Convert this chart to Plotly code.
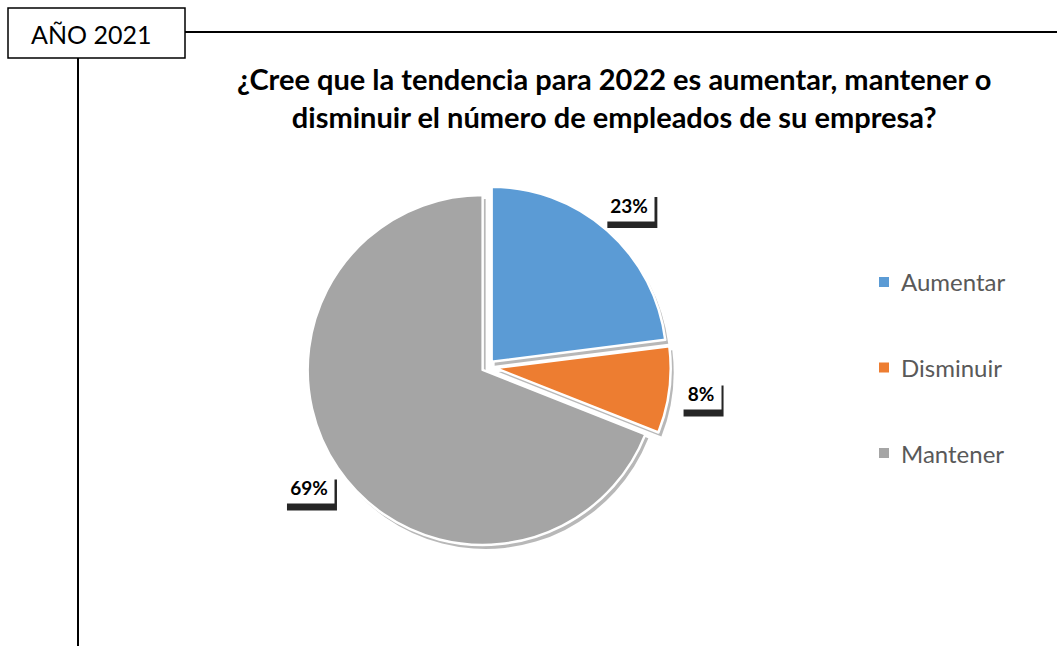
import math
import plotly.graph_objects as go

W, H = 1057, 646

categories = ["Aumentar", "Disminuir", "Mantener"]
values = [23, 8, 69]
colors = ["#5B9BD5", "#ED7D31", "#A5A5A5"]
pulls = [0.04, 0.05, 0.03]

title_lines = ["¿Cree que la tendencia para 2022 es aumentar, mantener o",
               "disminuir el número de empleados de su empresa?"]
year_label = "AÑO 2021"

FONT = "Lato"

def px(x):
    return x / W

def py(y):
    return 1 - y / H

# pie geometry (pixels)
cx, cy, r = 487, 367, 175
half = r * (1 + max(pulls))

def dom(dx=0, dy=0):
    return dict(x=[px(cx - half + dx), px(cx + half + dx)],
                y=[py(cy + half + dy), py(cy - half + dy)])

fig = go.Figure()

# soft shadow of the pie
fig.add_trace(go.Pie(
    labels=categories, values=values,
    marker=dict(colors=["rgba(0,0,0,0.28)"] * 3, line=dict(color="rgba(0,0,0,0)", width=0)),
    pull=pulls, sort=False, direction="clockwise", rotation=0,
    textinfo="none", hoverinfo="skip", showlegend=False,
    domain=dom(3, 4),
))

fig.add_trace(go.Pie(
    labels=categories,
    values=values,
    marker=dict(colors=colors, line=dict(color="white", width=2.5)),
    pull=pulls,
    sort=False,
    direction="clockwise",
    rotation=0,
    textinfo="none",
    hoverinfo="label+percent",
    showlegend=False,
    domain=dom(),
))

annotations = []
shapes = []

# data labels positioned from slice angles
total = sum(values)
cum = 0
for cat, v in zip(categories, values):
    mid = (cum + v / 2) / total * 2 * math.pi
    cum += v
    lx = cx + 1.23 * r * math.sin(mid)
    ly = cy - 1.23 * r * math.cos(mid)
    txt = f"{round(v / total * 100)}%"
    bw = 12 + 10 * len(txt) + 8
    bh = 31
    # shadow
    shapes.append(dict(type="rect", xref="paper", yref="paper",
                       x0=px(lx - bw / 2 + 3), x1=px(lx + bw / 2 + 3),
                       y0=py(ly + bh / 2 + 7), y1=py(ly - bh / 2 + 7),
                       fillcolor="rgba(0,0,0,0.85)", line=dict(width=0)))
    annotations.append(dict(
        x=px(lx), y=py(ly), xref="paper", yref="paper", text=f"<b>{txt}</b>",
        showarrow=False, xanchor="center", yanchor="middle",
        width=bw, height=bh,
        font=dict(family=FONT, size=19, color="black"),
        bgcolor="white", borderpad=0,
    ))

# manual legend
leg_x, leg_y0, leg_dy = 884, 282, 85.5
for i, (cat, col) in enumerate(zip(categories, colors)):
    yy = leg_y0 + i * leg_dy
    shapes.append(dict(type="rect", xref="paper", yref="paper",
                       x0=px(leg_x - 5), x1=px(leg_x + 5), y0=py(yy + 5), y1=py(yy - 5),
                       fillcolor=col, line=dict(width=0)))
    annotations.append(dict(
        x=px(leg_x + 15), y=py(yy), xref="paper", yref="paper", text=cat,
        showarrow=False, xanchor="left", yanchor="middle",
        font=dict(family=FONT, size=24, color="#595959"),
    ))

# title
annotations.append(dict(
    x=px(614), y=py(98), xref="paper", yref="paper",
    text="<b>" + "<br>".join(title_lines) + "</b>",
    showarrow=False, xanchor="center", yanchor="middle",
    font=dict(family=FONT, size=29, color="black"),
))

# year box
shapes.append(dict(type="rect", xref="paper", yref="paper",
                   x0=px(8), x1=px(185), y0=py(58), y1=py(8),
                   line=dict(color="black", width=1.5), fillcolor="white"))
annotations.append(dict(
    x=px(91), y=py(34), xref="paper", yref="paper", text=year_label,
    showarrow=False, xanchor="center", yanchor="middle",
    font=dict(family=FONT, size=25, color="black"),
))
shapes.append(dict(type="line", xref="paper", yref="paper",
                   x0=px(185), x1=1, y0=py(32), y1=py(32),
                   line=dict(color="black", width=2)))
shapes.append(dict(type="line", xref="paper", yref="paper",
                   x0=px(78), x1=px(78), y0=py(58), y1=0,
                   line=dict(color="black", width=2)))

fig.update_layout(
    width=W, height=H,
    margin=dict(l=0, r=0, t=0, b=0),
    paper_bgcolor="white", plot_bgcolor="white",
    annotations=annotations, shapes=shapes,
    showlegend=False,
)

fig.write_html("out.html", config={"displayModeBar": False},
               post_script="document.body.style.margin='0';")
